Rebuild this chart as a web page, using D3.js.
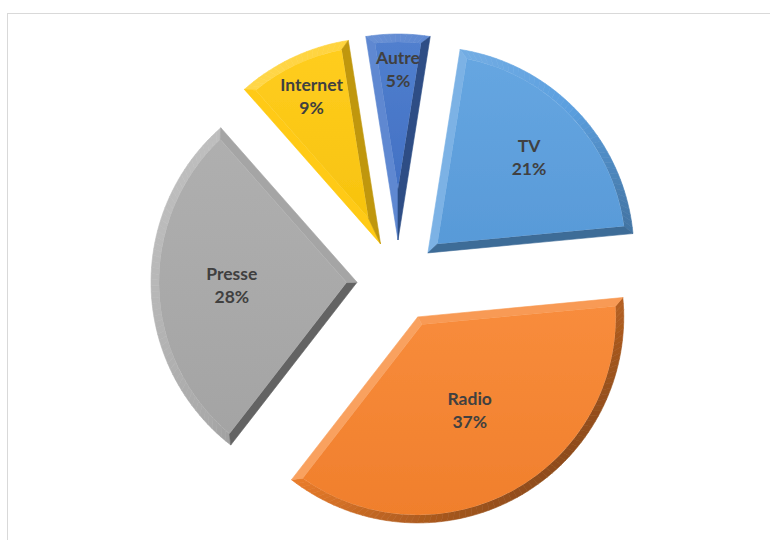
<!DOCTYPE html>
<html>
<head>
<meta charset="utf-8">
<script src="https://cdn.jsdelivr.net/npm/d3@7"></script>
<style>
  html, body { margin: 0; padding: 0; background: #fff; }
  svg { display: block; }
</style>
</head>
<body>
<svg id="chart" width="770" height="540"></svg>
<script>
// Media share (%)
const categories = ["TV", "Radio", "Presse", "Internet", "Autre"];
const values = [21, 37, 28, 9, 5];
const colors = ["#5B9FDF", "#F7832D", "#A9A9A9", "#FFC90E", "#4475CA"];

const svg = d3.select("#chart");

// chart area frame
svg.append("rect")
  .attr("x", 7.5).attr("y", 13.5)
  .attr("width", 800).attr("height", 600)
  .attr("fill", "#fff").attr("stroke", "#d9d9d9").attr("stroke-width", 1);

const cx = 398, cy = 281;   // pie centre
const R = 206;              // outer radius
const explode = 41;         // distance each slice is pulled out
const bev = 8;              // bevel width
const start = 9 * Math.PI / 180;

const pie = d3.pie().sort(null).value(d => d)
  .startAngle(start).endAngle(start + 2 * Math.PI);
const arcs = pie(values);

const u = a => [Math.sin(a), -Math.cos(a)];
const pt = (c, a, r) => [c[0] + r * Math.sin(a), c[1] - r * Math.cos(a)];
const add = (p, v, s) => [p[0] + v[0] * s, p[1] + v[1] * s];
const light = u(-Math.PI / 4); // light from the upper left

function shade(base, n) {
  const d = n[0] * light[0] + n[1] * light[1];
  return d >= 0 ? d3.interpolateRgb(base, "#ffffff")(d * 0.24)
                : d3.interpolateRgb(base, "#000000")(-d * 0.42);
}

const defs = svg.append("defs");
defs.append("filter").attr("id", "soft")
  .append("feGaussianBlur").attr("stdDeviation", 0.6);

const g = svg.append("g");
const fs = 17.5;

arcs.forEach((d, i) => {
  const a0 = d.startAngle, a1 = d.endAngle, m = (a0 + a1) / 2, span = a1 - a0;
  const c = pt([cx, cy], m, explode);
  const base = colors[i];

  // slice geometry
  const O0 = pt(c, a0, R), O1 = pt(c, a1, R);
  const n0 = u(a0 + Math.PI / 2), n1 = u(a1 - Math.PI / 2);
  const t = Math.sqrt((R - bev) ** 2 - bev ** 2);
  const I0 = add(add(c, u(a0), t), n0, bev);
  const I1 = add(add(c, u(a1), t), n1, bev);
  const Ai = pt(c, m, bev / Math.sin(span / 2));
  const da = Math.atan(bev / t);
  const b0 = a0 + da, b1 = a1 - da;

  const sg = g.append("g").attr("class", "slice").attr("filter", "url(#soft)");

  // bevel facets along the arc
  const N = Math.max(8, Math.ceil(span / 0.03));
  for (let k = 0; k < N; k++) {
    const al = a0 + span * k / N, ar = a0 + span * (k + 1) / N;
    const bl = b0 + (b1 - b0) * k / N, br = b0 + (b1 - b0) * (k + 1) / N;
    const p = [pt(c, al, R), pt(c, ar, R), pt(c, br, R - bev), pt(c, bl, R - bev)];
    const col = shade(base, u((al + ar) / 2));
    sg.append("path").attr("d", "M" + p.join("L") + "Z")
      .attr("fill", col).attr("stroke", col).attr("stroke-width", 0.6);
  }
  // bevel facets along the two straight sides
  [[O0, I0, u(a0 - Math.PI / 2)], [O1, I1, u(a1 + Math.PI / 2)]].forEach(([O, I, n]) => {
    const col = shade(base, n);
    sg.append("path").attr("d", "M" + [c, O, I, Ai].join("L") + "Z")
      .attr("fill", col).attr("stroke", col).attr("stroke-width", 0.6);
  });

  // top face with a gentle vertical sheen
  const gid = "face" + i;
  const lg = defs.append("linearGradient").attr("id", gid)
    .attr("x1", 0).attr("y1", 0).attr("x2", 0).attr("y2", 1);
  lg.append("stop").attr("offset", "0%").attr("stop-color", d3.interpolateRgb(base, "#fff")(0.07));
  lg.append("stop").attr("offset", "100%").attr("stop-color", d3.interpolateRgb(base, "#000")(0.03));
  const ri = R - bev;
  const large = (b1 - b0) > Math.PI ? 1 : 0;
  const e0 = pt(c, b0, ri), e1 = pt(c, b1, ri);
  sg.append("path")
    .attr("d", `M${Ai}L${e0}A${ri},${ri} 0 ${large} 1 ${e1}Z`)
    .attr("fill", `url(#${gid})`);

  // label: narrow slices carry their label further out
  const spanDeg = span * 180 / Math.PI;
  const lr = R * (0.87 - 0.0026 * spanDeg);
  const lp = pt(c, m, lr);
  const txt = g.append("text")
    .attr("x", lp[0]).attr("y", lp[1])
    .attr("text-anchor", "middle")
    .attr("font-family", "Lato, 'Open Sans', sans-serif")
    .attr("font-weight", "bold")
    .attr("font-size", fs)
    .attr("fill", "#404040");
  txt.append("tspan").attr("x", lp[0]).attr("dy", -6).text(categories[i]);
  txt.append("tspan").attr("x", lp[0]).attr("dy", 23).text(values[i] + "%");
});
</script>
</body>
</html>
